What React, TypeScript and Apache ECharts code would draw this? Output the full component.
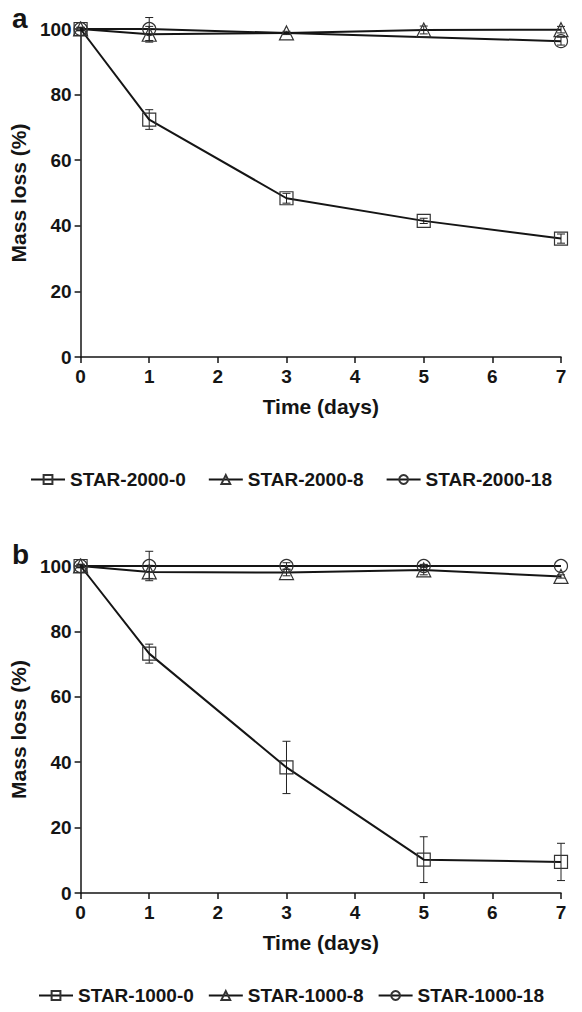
import React, { useEffect, useRef } from "react";
import * as echarts from "echarts";

const days = [0, 1, 3, 5, 7];
const daysA18 = [0, 1, 7];

const namesA = ["STAR-2000-0", "STAR-2000-8", "STAR-2000-18"];
const namesB = ["STAR-1000-0", "STAR-1000-8", "STAR-1000-18"];

const a0 = [100, 72.4, 48.4, 41.5, 36.1];
const a0Err = [0.5, 3, 1.5, 0.8, 1.4];
const a8 = [100, 98.4, 98.8, 99.7, 99.8];
const a8Err = [0.5, 2.4, 0.5, 1.2, 1];
const a18 = [100, 100, 96.3];
const a18Err = [0.5, 3.5, 1.2];

const b0 = [100, 73.2, 38.4, 10.2, 9.5];
const b0Err = [0.5, 2.9, 8, 7, 5.7];
const b8 = [100, 98.2, 98, 98.8, 96.8];
const b8Err = [0.5, 2, 1, 1.5, 0.5];
const b18 = [100, 100, 100, 100, 100];
const b18Err = [0.5, 4.5, 1, 0.5, 0];

const xTicks = [0, 7, 1];
const yTicks = [0, 100, 20];

const FONT = "Liberation Sans";
const INK = "#151515";

function pts(xs: number[], ys: number[]) {
  return xs.map((x, i) => [x, ys[i]]);
}
function errPts(xs: number[], ys: number[], es: number[]) {
  return xs.map((x, i) => [x, ys[i] - es[i], ys[i] + es[i]]).filter((_, i) => es[i] > 0);
}

function lineSeries(name: string, data: number[][], symbol: string, gi: number) {
  return {
    type: "line",
    name,
    xAxisIndex: gi,
    yAxisIndex: gi,
    data,
    symbol,
    symbolSize: symbol === "triangle" ? 14 : 13,
    showAllSymbol: true,
    lineStyle: { color: INK, width: 2 },
    itemStyle: { color: "rgba(255,255,255,0)", borderColor: "#333", borderWidth: 1.2 },
    z: 3,
  };
}

function errSeries(data: number[][], gi: number) {
  return {
    type: "custom",
    xAxisIndex: gi,
    yAxisIndex: gi,
    data,
    z: 2,
    silent: true,
    renderItem: (params: any, api: any) => {
      const x = api.value(0);
      const lo = api.coord([x, api.value(1)]);
      const hi = api.coord([x, api.value(2)]);
      const cap = 4;
      const st = { stroke: "#222", lineWidth: 1 };
      return {
        type: "group",
        children: [
          { type: "line", shape: { x1: lo[0], y1: lo[1], x2: hi[0], y2: hi[1] }, style: st },
          { type: "line", shape: { x1: lo[0] - cap, y1: lo[1], x2: lo[0] + cap, y2: lo[1] }, style: st },
          { type: "line", shape: { x1: hi[0] - cap, y1: hi[1], x2: hi[0] + cap, y2: hi[1] }, style: st },
        ],
      };
    },
  };
}

const labelStyle = { fontFamily: FONT, fontWeight: "bold" as const, fontSize: 19, color: INK };

function xAxis(gi: number) {
  return {
    type: "value",
    gridIndex: gi,
    min: xTicks[0],
    max: xTicks[1],
    interval: xTicks[2],
    axisLine: { show: true, onZero: false, lineStyle: { color: INK, width: 1.5 } },
    axisTick: { show: true, length: 6, lineStyle: { color: INK, width: 1.5 } },
    axisLabel: { ...labelStyle, margin: 10 },
    splitLine: { show: false },
    name: "Time (days)",
    nameLocation: "middle",
    nameGap: 39,
    nameTextStyle: { ...labelStyle, fontSize: 21 },
  };
}
function yAxis(gi: number) {
  return {
    type: "value",
    gridIndex: gi,
    min: yTicks[0],
    max: yTicks[1],
    interval: yTicks[2],
    axisLine: { show: true, onZero: false, lineStyle: { color: INK, width: 1.5 } },
    axisTick: { show: true, length: 6, lineStyle: { color: INK, width: 1.5 } },
    axisLabel: { ...labelStyle, margin: 9 },
    splitLine: { show: false },
    name: "Mass loss (%)",
    nameLocation: "middle",
    nameGap: 48,
    nameTextStyle: { ...labelStyle, fontSize: 21 },
  };
}

function legend(names: string[], top: number, gap: number) {
  return {
    data: names,
    top,
    left: "center",
    padding: 0,
    itemWidth: 34,
    itemHeight: 11,
    itemGap: gap,
    textStyle: { ...labelStyle, fontSize: 19 },
  };
}

export default function App() {
  const ref = useRef<HTMLDivElement>(null);
  useEffect(() => {
    if (!ref.current) return;
    const chart = echarts.init(ref.current, null, { renderer: "svg" });
    chart.setOption({
      animation: false,
      backgroundColor: "#ffffff",
      grid: [
        { left: 80, top: 29, width: 481, height: 328 },
        { left: 80, top: 566, width: 481, height: 327 },
      ],
      xAxis: [xAxis(0), xAxis(1)],
      yAxis: [yAxis(0), yAxis(1)],
      legend: [legend(namesA, 470, 22), legend(namesB, 986, 14)],
      graphic: [
        { type: "text", left: 12, top: 4, style: { text: "a", font: `bold 28px "${FONT}"`, fill: INK } },
        { type: "text", left: 12, top: 540, style: { text: "b", font: `bold 28px "${FONT}"`, fill: INK } },
      ],
      series: [
        errSeries(errPts(days, a0, a0Err), 0),
        errSeries(errPts(days, a8, a8Err), 0),
        errSeries(errPts(daysA18, a18, a18Err), 0),
        lineSeries(namesA[0], pts(days, a0), "rect", 0),
        lineSeries(namesA[1], pts(days, a8), "triangle", 0),
        lineSeries(namesA[2], pts(daysA18, a18), "circle", 0),
        errSeries(errPts(days, b0, b0Err), 1),
        errSeries(errPts(days, b8, b8Err), 1),
        errSeries(errPts(days, b18, b18Err), 1),
        lineSeries(namesB[0], pts(days, b0), "rect", 1),
        lineSeries(namesB[1], pts(days, b8), "triangle", 1),
        lineSeries(namesB[2], pts(days, b18), "circle", 1),
      ],
    });
    return () => chart.dispose();
  }, []);
  return (
    <div
      ref={ref}
      style={{ position: "absolute", left: 0, top: 0, width: 582, height: 1012, background: "#fff" }}
    />
  );
}
